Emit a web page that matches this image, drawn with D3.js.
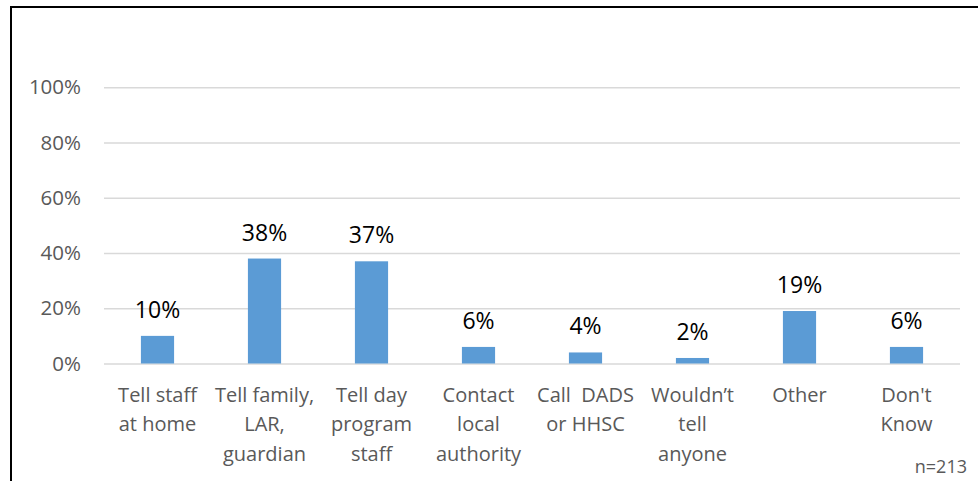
<!DOCTYPE html>
<html>
<head>
<meta charset="utf-8">
<script src="https://cdn.jsdelivr.net/npm/d3@7"></script>
<style>
  html, body { margin: 0; padding: 0; background: #fff; }
  svg { display: block; }
  text { font-family: "Open Sans", Lato, sans-serif; }
</style>
</head>
<body>
<svg id="chart" width="978" height="481"></svg>
<script>
// Responses: what people would do
const categories = [
  "Tell staff\nat home",
  "Tell family,\nLAR,\nguardian",
  "Tell day\nprogram\nstaff",
  "Contact\nlocal\nauthority",
  "Call  DADS\nor HHSC",
  "Wouldn\u2019t\ntell\nanyone",
  "Other",
  "Don't\nKnow"
];
const values = [10, 38, 37, 6, 4, 2, 19, 6];
const yTicks = [0, 20, 40, 60, 80, 100];
const sampleNote = "n=213";

const svg = d3.select("#chart");

// Frame around the chart area
svg.append("rect")
  .attr("x", 11).attr("y", 7)
  .attr("width", 990).attr("height", 500)
  .attr("fill", "none")
  .attr("stroke", "#000")
  .attr("stroke-width", 2);

const plot = { left: 104, right: 960, top: 87.3, bottom: 363.5 };

const x = d3.scaleBand()
  .domain(categories)
  .range([plot.left, plot.right])
  .paddingInner(0.69)
  .paddingOuter(0.345);

const y = d3.scaleLinear()
  .domain([0, 100])
  .range([plot.bottom, plot.top]);

// Gridlines and value axis
const yAxis = d3.axisLeft(y)
  .tickValues(yTicks)
  .tickFormat(d => d + "%")
  .tickSize(-(plot.right - plot.left))
  .tickPadding(23);

const gy = svg.append("g")
  .attr("transform", `translate(${plot.left},0)`)
  .call(yAxis);
gy.select(".domain").remove();
gy.selectAll(".tick line")
  .attr("stroke", "#d9d9d9")
  .attr("stroke-width", 1.4);
gy.selectAll(".tick text")
  .attr("fill", "#595959")
  .style("font-size", "20.5px");

// Bars
svg.append("g").selectAll("rect")
  .data(values)
  .join("rect")
  .attr("x", (d, i) => x(categories[i]))
  .attr("width", x.bandwidth())
  .attr("y", d => y(d))
  .attr("height", d => y(0) - y(d))
  .attr("fill", "#5b9bd5");

// Value labels
svg.append("g").selectAll("text")
  .data(values)
  .join("text")
  .attr("x", (d, i) => x(categories[i]) + x.bandwidth() / 2)
  .attr("y", d => y(d) - 18)
  .attr("text-anchor", "middle")
  .attr("fill", "#000")
  .style("font-size", "23px")
  .text(d => d + "%");

// Category labels (multi-line)
const catG = svg.append("g").selectAll("text")
  .data(categories)
  .join("text")
  .attr("text-anchor", "middle")
  .attr("fill", "#595959")
  .style("font-size", "20px")
  .style("white-space", "pre")
  .attr("xml:space", "preserve");
catG.each(function(c) {
  const cx = x(c) + x.bandwidth() / 2;
  d3.select(this).selectAll("tspan")
    .data(c.split("\n"))
    .join("tspan")
    .attr("x", cx)
    .attr("y", (l, j) => 401.5 + j * 29.5)
    .text(l => l);
});

// Sample size note
svg.append("text")
  .attr("x", 967)
  .attr("y", 472.5)
  .attr("text-anchor", "end")
  .attr("fill", "#595959")
  .style("font-size", "18px")
  .text(sampleNote);
</script>
</body>
</html>
